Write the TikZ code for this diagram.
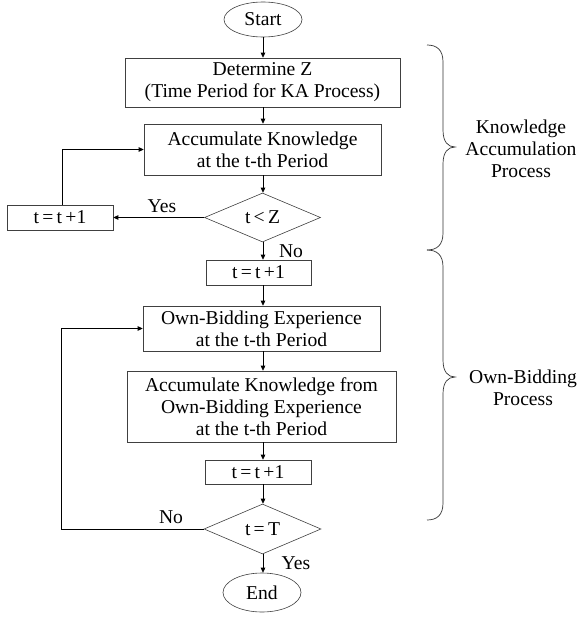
\documentclass[tikz,border=0pt]{standalone}
\usepackage{fontspec}
\setmainfont{Liberation Serif}
\usetikzlibrary{shapes.geometric,arrows.meta}
\begin{document}
\begin{tikzpicture}[x=1pt,y=1pt,
  every node/.style={font=\fontsize{19.6pt}{22pt}\selectfont, inner sep=0pt, align=center},
  box/.style={draw=black!75, line width=0.6pt, rectangle},
  oval/.style={draw=black!75, line width=0.6pt, ellipse},
  dia/.style={draw=black!75, line width=0.6pt, diamond},
  arr/.style={draw=black, line width=0.8pt, -{Triangle[length=5pt,width=4.5pt]}},
  brc/.style={draw=black!80, line width=0.7pt},
  lbl/.style={font=\fontsize{19.6pt}{22pt}\selectfont}]
\useasboundingbox (0,0) rectangle (579,-618);
\coordinate (col) at (263,0);
\node[oval, minimum width=78pt, minimum height=35pt] (start) at (263,-19.5) {Start};
\node[box, minimum width=275pt, minimum height=49pt] (detz) at (262.5,-82.5) {Determine Z\\(Time Period for KA Process)};
\node[box, minimum width=237pt, minimum height=51pt] (acc1) at (262.5,-149.5) {Accumulate Knowledge\\at the t-th Period};
\node[dia, minimum width=116pt, minimum height=49pt] (d1) at (262.5,-217.5) {t\,<\,Z};
\node[box, minimum width=106pt, minimum height=25pt] (inc1) at (60,-217.5) {t\,=\,t\,+1};
\node[box, minimum width=105pt, minimum height=25pt] (inc2) at (258.5,-272.5) {t\,=\,t\,+1};
\node[box, minimum width=237pt, minimum height=45pt] (own) at (261.5,-328.5) {Own-Bidding Experience\\at the t-th Period};
\node[box, minimum width=269pt, minimum height=71pt] (accf) at (261.5,-406.5) {Accumulate Knowledge from\\Own-Bidding Experience\\at the t-th Period};
\node[box, minimum width=106pt, minimum height=24pt] (inc3) at (258,-472) {t\,=\,t\,+1};
\node[dia, minimum width=117pt, minimum height=50pt] (d2) at (262.5,-529) {t\,=\,T};
\node[oval, minimum width=78pt, minimum height=39pt] (end) at (262,-592.5) {End};
% main column arrows
\draw[arr] (col |- start.south) -- (col |- detz.north);
\draw[arr] (col |- detz.south) -- (col |- acc1.north);
\draw[arr] (col |- acc1.south) -- (col |- d1.north);
\draw[arr] (col |- d1.south) -- (col |- inc2.north);
\draw[arr] (col |- inc2.south) -- (col |- own.north);
\draw[arr] (col |- own.south) -- (col |- accf.north);
\draw[arr] (col |- accf.south) -- (col |- inc3.north);
\draw[arr] (col |- inc3.south) -- (col |- d2.north);
\draw[arr] (col |- d2.south) -- (col |- end.north);
% first loop
\draw[arr] (d1.west) -- (inc1.east);
\coordinate (l1) at (62,0);
\draw[arr] (l1 |- inc1.north) |- (acc1.west);
% second loop
\coordinate (l2) at (61,0);
\draw[arr] (d2.west) -- (l2 |- d2.west) |- (own.west);
% labels
\node[lbl] (yes1) at (162,-206) {Yes};
\node[lbl] (no1) at (291,-251) {No};
\node[lbl] (no2) at (171,-517) {No};
\node[lbl] (yes2) at (296,-563) {Yes};
% braces
\draw[brc] (427,-45) .. controls (437,-45) and (443,-50) .. (443,-62) -- (443,-130)
  .. controls (443,-142) and (448,-147) .. (455,-147)
  .. controls (448,-147) and (443,-152) .. (443,-164) -- (443,-233)
  .. controls (443,-245) and (437,-250) .. (427,-250);
\draw[brc] (427,-250) .. controls (437,-250) and (443,-255) .. (443,-267) -- (443,-360)
  .. controls (443,-372) and (448,-377) .. (455,-377)
  .. controls (448,-377) and (443,-382) .. (443,-394) -- (443,-503)
  .. controls (443,-515) and (437,-520) .. (427,-520);
\node (ka) at (521,-149) {Knowledge\\Accumulation\\Process};
\node (ob) at (523,-388) {Own-Bidding\\Process};
\end{tikzpicture}
\end{document}
